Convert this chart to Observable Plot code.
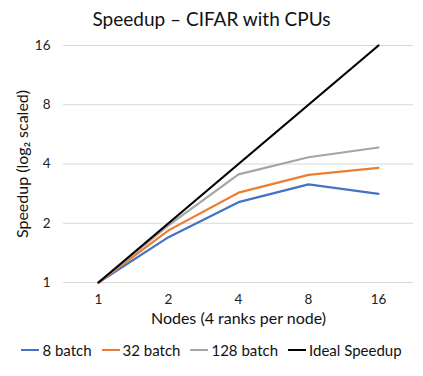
<!DOCTYPE html>
<html><head><meta charset="utf-8">
<script src="https://cdn.jsdelivr.net/npm/d3@7"></script>
<script src="https://cdn.jsdelivr.net/npm/@observablehq/plot@0.6"></script>
<style>
body{margin:0;background:#fff;font-family:Lato,"Open Sans",sans-serif;}
#wrap{width:423px;height:376px;position:relative;}
#title{height:32px;line-height:38px;text-align:center;font-size:19px;color:#111;}
#legend{display:flex;justify-content:center;gap:10px;font-size:15px;color:#111;margin-top:4px;}
.item{display:flex;align-items:center;gap:3px;}
.sw{width:18px;height:2px;display:inline-block;}
</style></head>
<body><div id="wrap"><div id="title">Speedup – CIFAR with CPUs</div><div id="chart"></div><div id="legend"></div></div>
<script>
const nodes = [1, 2, 4, 8, 16];
const batch8 = [1, 1.70, 2.56, 3.15, 2.82];
const batch32 = [1, 1.84, 2.86, 3.52, 3.82];
const batch128 = [1, 1.95, 3.54, 4.33, 4.85];
const ideal = [1, 2, 4, 8, 16];
const seriesNames = ["8 batch", "32 batch", "128 batch", "Ideal Speedup"];
const seriesColors = ["#4472C4", "#ED7D31", "#A5A5A5", "#000000"];
const yTicks = [1, 2, 4, 8, 16];
const xLabel = "Nodes (4 ranks per node)";
const yLabel = "Speedup (log₂ scaled)";

const allSeries = [batch8, batch32, batch128, ideal];
const rows = [];
allSeries.forEach((vals, i) => vals.forEach((v, j) => rows.push({series: seriesNames[i], nodes: nodes[j], speedup: v})));

const chart = Plot.plot({
  width: 423, height: 305,
  marginTop: 13, marginBottom: 55, marginLeft: 63, marginRight: 10,
  style: {fontFamily: "Lato, 'Open Sans', sans-serif", fontSize: "13px", color: "#222"},
  x: {type: "point", domain: nodes, padding: 0.5},
  y: {type: "log", base: 2, domain: [1, 16]},
  color: {domain: seriesNames, range: seriesColors},
  marks: [
    Plot.gridY(yTicks, {stroke: "#d9d9d9", strokeOpacity: 1, strokeWidth: 1}),
    Plot.axisY(yTicks, {tickSize: 0, tickPadding: 13, tickFormat: d => String(d), fontSize: 13.5, label: null}),
    Plot.axisX({tickSize: 0, tickPadding: 12, fontSize: 13.5, label: null}),
    Plot.text([xLabel], {text: d => d, frameAnchor: "bottom", dy: 41, fontSize: 16, fill: "#111"}),
    Plot.text([yLabel], {text: d => d, frameAnchor: "left", textAnchor: "middle", lineAnchor: "middle", dx: -41, rotate: -90, fontSize: 16, fill: "#111"}),
    Plot.line(rows, {x: "nodes", y: "speedup", z: "series", stroke: "series", strokeWidth: 2.2})
  ]
});
document.getElementById("chart").appendChild(chart);

const legend = document.getElementById("legend");
seriesNames.forEach((name, i) => {
  const it = document.createElement("div"); it.className = "item";
  const sw = document.createElement("span"); sw.className = "sw"; sw.style.background = seriesColors[i];
  const tx = document.createElement("span"); tx.textContent = name;
  it.appendChild(sw); it.appendChild(tx); legend.appendChild(it);
});
</script></body></html>
